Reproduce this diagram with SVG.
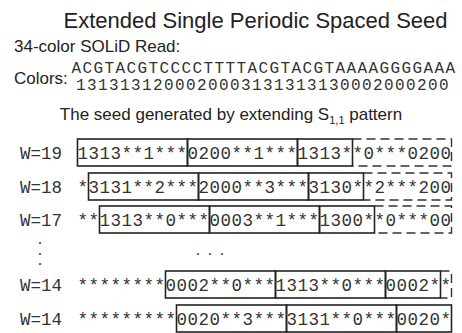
<svg xmlns="http://www.w3.org/2000/svg" width="462" height="333" viewBox="0 0 462 333">
<style>
.sans{font-family:"Liberation Sans",Arial,sans-serif;fill:#222}
.mono{font-family:"Liberation Mono","Courier New",monospace;fill:#333}
.seq{font-size:16px;letter-spacing:1.4px}
.lbl{font-size:17.5px}
.row{font-size:17.5px;letter-spacing:0.5px}
.dot{font-family:"Liberation Sans",Arial,sans-serif;font-size:7px;fill:#333;text-anchor:middle}
.box{fill:none;stroke:#222;stroke-width:1.6}
.dash{fill:none;stroke:#333;stroke-width:1.4;stroke-dasharray:9 5}
</style>
<rect width="462" height="333" fill="#fff"/>
<g id="header">
<text class="sans" x="255.5" y="28" font-size="22" text-anchor="middle">Extended Single Periodic Spaced Seed</text>
<text class="sans" x="14" y="52" font-size="17">34-color SOLiD Read:</text>
<text class="mono seq" x="71.5" y="73">ACGTACGTCCCCTTTTACGTACGTAAAAGGGGAAA</text>
<text class="sans" x="14" y="84" font-size="17">Colors:</text>
<text class="mono seq" x="76" y="90">1313131200020003131313130002000200</text>
<text class="sans" x="231" y="120" font-size="17" text-anchor="middle">The seed generated by extending S<tspan font-size="11" dy="4">1,1</tspan><tspan dy="-4"> pattern</tspan></text>
</g>
<g id="row-w19">
<text class="mono lbl" x="20" y="158.5">W=19</text>
<text class="mono row" x="77.5" y="158.5">1313**1***0200**1***1313**0***0200</text>
<rect class="box" x="77.5" y="139" width="110" height="27"/>
<rect class="box" x="187.5" y="139" width="110" height="27"/>
<rect class="box" x="297.5" y="139" width="55" height="27"/>
<path class="dash" d="M352.5 139H451.5V166H352.5"/>
</g>
<g id="row-w18">
<text class="mono lbl" x="20" y="192.5">W=18</text>
<text class="mono row" x="77.5" y="192.5">*3131**2***2000**3***3130**2***200</text>
<rect class="box" x="88.5" y="173" width="110" height="27"/>
<rect class="box" x="198.5" y="173" width="110" height="27"/>
<rect class="box" x="308.5" y="173" width="55" height="27"/>
<path class="dash" d="M363.5 173H451.5V200H363.5"/>
</g>
<g id="row-w17">
<text class="mono lbl" x="20" y="225.5">W=17</text>
<text class="mono row" x="77.5" y="225.5">**1313**0***0003**1***1300**0***00</text>
<rect class="box" x="99.5" y="206" width="110" height="27"/>
<rect class="box" x="209.5" y="206" width="110" height="27"/>
<rect class="box" x="319.5" y="206" width="55" height="27"/>
<path class="dash" d="M374.5 206H451.5V233H374.5"/>
</g>
<g id="ellipsis">
<text class="dot" x="40" y="245">•</text>
<text class="dot" x="40" y="255.5">•</text>
<text class="dot" x="40" y="266">•</text>
<text class="dot" x="198" y="255.5">•</text>
<text class="dot" x="210" y="255.5">•</text>
<text class="dot" x="222" y="255.5">•</text>
</g>
<g id="row-w14a">
<text class="mono lbl" x="20" y="290.5">W=14</text>
<text class="mono row" x="77.5" y="290.5">********0002**0***1313**0***0002**</text>
<rect class="box" x="165.5" y="271" width="110" height="27"/>
<rect class="box" x="275.5" y="271" width="110" height="27"/>
<rect class="box" x="385.5" y="271" width="55" height="27"/>
<path class="dash" d="M440.5 271H451.5V298H440.5"/>
</g>
<g id="row-w14b">
<text class="mono lbl" x="20" y="324.5">W=14</text>
<text class="mono row" x="77.5" y="324.5">*********0020**3***3131**0***0020*</text>
<rect class="box" x="176.5" y="305" width="110" height="27"/>
<rect class="box" x="286.5" y="305" width="110" height="27"/>
<rect class="box" x="396.5" y="305" width="55" height="27"/>
</g>
<g id="connectors"/>
</svg>
